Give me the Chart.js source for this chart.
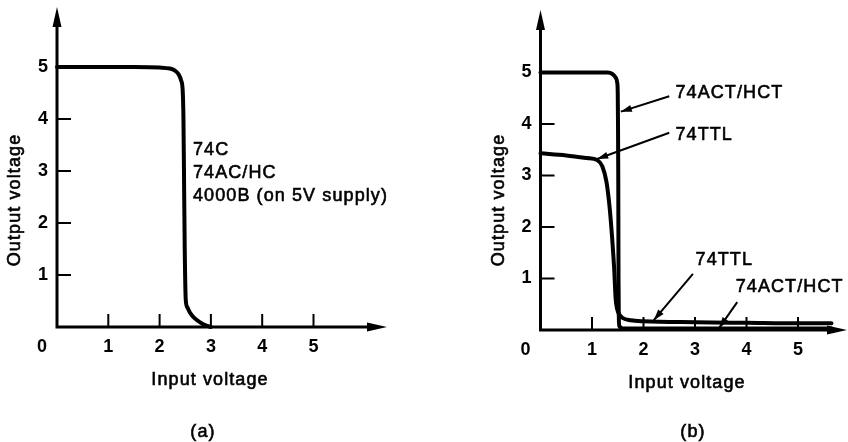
<!DOCTYPE html>
<html>
<head>
<meta charset="utf-8">
<script src="https://cdn.jsdelivr.net/npm/chart.js@4"></script>
<style>
  html, body { margin: 0; padding: 0; background: #fff; }
  #wrap { position: relative; width: 848px; height: 442px; }
  canvas { position: absolute; top: 0; }
</style>
</head>
<body>
<div id="wrap">
  <canvas id="chartA" width="424" height="442" style="left:0"></canvas>
  <canvas id="chartB" width="424" height="442" style="left:424px"></canvas>
</div>
<script>
// ---------- data ----------
const tickValues = [1, 2, 3, 4, 5];
const tickLabels = ['1', '2', '3', '4', '5'];

// (a) CMOS transfer curve
const cmosIn  = [0, 0.5, 1.0, 1.5, 2.0, 2.2, 2.3, 2.37, 2.42, 2.45, 2.465, 2.475, 2.49, 2.51, 2.54, 2.59, 2.68, 2.79, 2.9, 3.0];
const cmosOut = [5, 5, 5, 5, 4.99, 4.97, 4.93, 4.86, 4.74, 4.55, 4.0, 3.0, 1.5, 0.52, 0.38, 0.28, 0.17, 0.09, 0.03, 0];

// (b) 74ACT/HCT
const actIn  = [0, 0.5, 1.0, 1.3, 1.4, 1.46, 1.49, 1.5, 1.505, 1.51, 1.515, 1.52, 1.53, 1.6, 2, 3, 4, 5, 5.65];
const actOut = [5, 5, 5, 5, 4.97, 4.9, 4.8, 4.6, 4.0, 3.0, 1.0, 0.3, 0.08, 0.03, 0.03, 0.03, 0.03, 0.03, 0.03];

// (b) 74TTL
const ttlIn  = [0, 0.5, 0.9, 1.1, 1.2, 1.28, 1.34, 1.39, 1.43, 1.46, 1.49, 1.53, 1.6, 1.75, 2.0, 3.0, 4.0, 5.0, 5.65];
const ttlOut = [3.43, 3.39, 3.34, 3.30, 3.18, 2.88, 2.4, 1.8, 1.2, 0.6, 0.4, 0.3, 0.23, 0.19, 0.17, 0.15, 0.14, 0.13, 0.13];

const noteA = ['74C', '74AC/HC', '4000B (on 5V supply)'];

const ink = '#000';
const numFont = 'bold 18px "Liberation Sans", Arial, sans-serif';
const textFont = '18px "Liberation Sans", Arial, sans-serif';

function pts(xs, ys) { return xs.map((v, i) => ({ x: v, y: ys[i] })); }

function arrowHead(ctx, x1, y1, x2, y2, len, half) {
    const a = Math.atan2(y2 - y1, x2 - x1);
    const c = Math.cos(a), s = Math.sin(a);
    ctx.beginPath();
    ctx.moveTo(x2, y2);
    ctx.lineTo(x2 - len * c + half * s, y2 - len * s - half * c);
    ctx.lineTo(x2 - len * c - half * s, y2 - len * s + half * c);
    ctx.closePath();
    ctx.fill();
}

// slightly heavier text, like the printed figure
function inkText(ctx, str, px, py) {
    ctx.fillText(str, px, py);
    ctx.strokeText(str, px, py);
}

// axes with arrows, inward ticks, labels and notes
const sketchPlugin = {
    id: 'sketch',
    beforeDatasetsDraw(chart, args, o) {
        const { ctx } = chart;
        const { x, y } = chart.scales;
        const x0 = x.getPixelForValue(0), y0 = y.getPixelForValue(0);
        ctx.save();
        ctx.strokeStyle = ink;
        ctx.fillStyle = ink;
        ctx.lineCap = 'butt';
        ctx.lineWidth = 3;
        ctx.beginPath();
        ctx.moveTo(x0, y0 + 1.5); ctx.lineTo(x0, o.yTip + 15);
        ctx.moveTo(x0 - 1.5, y0); ctx.lineTo(o.xTip - 15, y0);
        ctx.stroke();
        arrowHead(ctx, x0, y0, x0, o.yTip, 20, 4.5);
        arrowHead(ctx, x0, y0, o.xTip, y0, 20, 4.5);

        ctx.lineWidth = 2;
        ctx.beginPath();
        tickValues.forEach(v => {
            const px = x.getPixelForValue(v), py = y.getPixelForValue(v);
            ctx.moveTo(px, y0); ctx.lineTo(px, y0 - 13);
            ctx.moveTo(x0, py); ctx.lineTo(x0 + 14, py);
        });
        ctx.stroke();

        ctx.font = numFont;
        ctx.textAlign = 'center';
        ctx.textBaseline = 'middle';
        tickValues.forEach((v, i) => {
            ctx.fillText(tickLabels[i], x.getPixelForValue(v), y0 + 20);
            ctx.fillText(tickLabels[i], x0 - 14, y.getPixelForValue(v));
        });
        ctx.fillText('0', x0 - 15, y0 + 20);
        ctx.restore();
    },
    afterDatasetsDraw(chart, args, o) {
        const { ctx } = chart;
        const { x, y } = chart.scales;
        ctx.save();
        ctx.fillStyle = ink;
        ctx.strokeStyle = ink;
        ctx.font = textFont;
        ctx.letterSpacing = '1.1px';
        ctx.lineWidth = 0.6;
        ctx.textBaseline = 'middle';
        ctx.textAlign = 'center';
        inkText(ctx, 'Input voltage', o.xTitle[0], o.xTitle[1]);
        inkText(ctx, o.panel[2], o.panel[0], o.panel[1]);
        ctx.save();
        ctx.translate(o.yTitle[0], o.yTitle[1]);
        ctx.rotate(-Math.PI / 2);
        inkText(ctx, 'Output voltage', 0, 0);
        ctx.restore();

        ctx.textAlign = 'left';
        (o.notes || []).forEach(n => {
            inkText(ctx, n.text, x.getPixelForValue(n.x), y.getPixelForValue(n.y));
        });
        ctx.lineWidth = 2;
        (o.arrows || []).forEach(a => {
            const x1 = x.getPixelForValue(a.x1), y1 = y.getPixelForValue(a.y1);
            const x2 = x.getPixelForValue(a.x2), y2 = y.getPixelForValue(a.y2);
            ctx.beginPath();
            ctx.moveTo(x1, y1); ctx.lineTo(x2, y2);
            ctx.stroke();
            arrowHead(ctx, x1, y1, x2, y2, 11, 3.5);
        });
        ctx.restore();
    }
};

function curve(data) {
    return {
        data,
        borderColor: ink,
        borderWidth: 4,
        borderJoinStyle: 'round',
        borderCapStyle: 'round',
        pointRadius: 0,
        fill: false,
        cubicInterpolationMode: 'monotone',
        clip: false
    };
}

function makeChart(id, datasets, xMax, padding, sketch) {
    return new Chart(document.getElementById(id), {
        type: 'line',
        data: { datasets },
        options: {
            responsive: false,
            animation: false,
            events: [],
            layout: { padding },
            scales: {
                x: { type: 'linear', min: 0, max: xMax, display: false },
                y: { type: 'linear', min: 0, max: 6, display: false }
            },
            plugins: {
                legend: { display: false },
                tooltip: { enabled: false },
                sketch
            }
        },
        plugins: [sketchPlugin]
    });
}

makeChart('chartA', [curve(pts(cmosIn, cmosOut))], 6,
    { left: 57, right: 59.2, top: 15, bottom: 115 },
    {
        yTip: 7, xTip: 387,
        xTitle: [210, 380], yTitle: [15, 200], panel: [203, 432, '(a)'],
        notes: [
            { text: noteA[0], x: 2.65, y: 3.40 },
            { text: noteA[1], x: 2.65, y: 2.96 },
            { text: noteA[2], x: 2.65, y: 2.51 }
        ]
    });

makeChart('chartB', [curve(pts(ttlIn, ttlOut)), curve(pts(actIn, actOut))], 5.9,
    { left: 116.5, right: 3.65, top: 21, bottom: 112 },
    {
        yTip: 10, xTip: 423,
        xTitle: [263, 383], yTitle: [75, 200], panel: [269, 432, '(b)'],
        notes: [
            { text: '74ACT/HCT', x: 2.62, y: 4.6 },
            { text: '74TTL', x: 2.62, y: 3.79 },
            { text: '74TTL', x: 3.01, y: 1.36 },
            { text: '74ACT/HCT', x: 3.79, y: 0.83 }
        ],
        arrows: [
            { x1: 2.50, y1: 4.54, x2: 1.56, y2: 4.24 },
            { x1: 2.50, y1: 3.83, x2: 1.10, y2: 3.32 },
            { x1: 2.96, y1: 1.09, x2: 2.20, y2: 0.19 },
            { x1: 3.82, y1: 0.54, x2: 3.47, y2: 0.04 }
        ]
    });
</script>
</body>
</html>
